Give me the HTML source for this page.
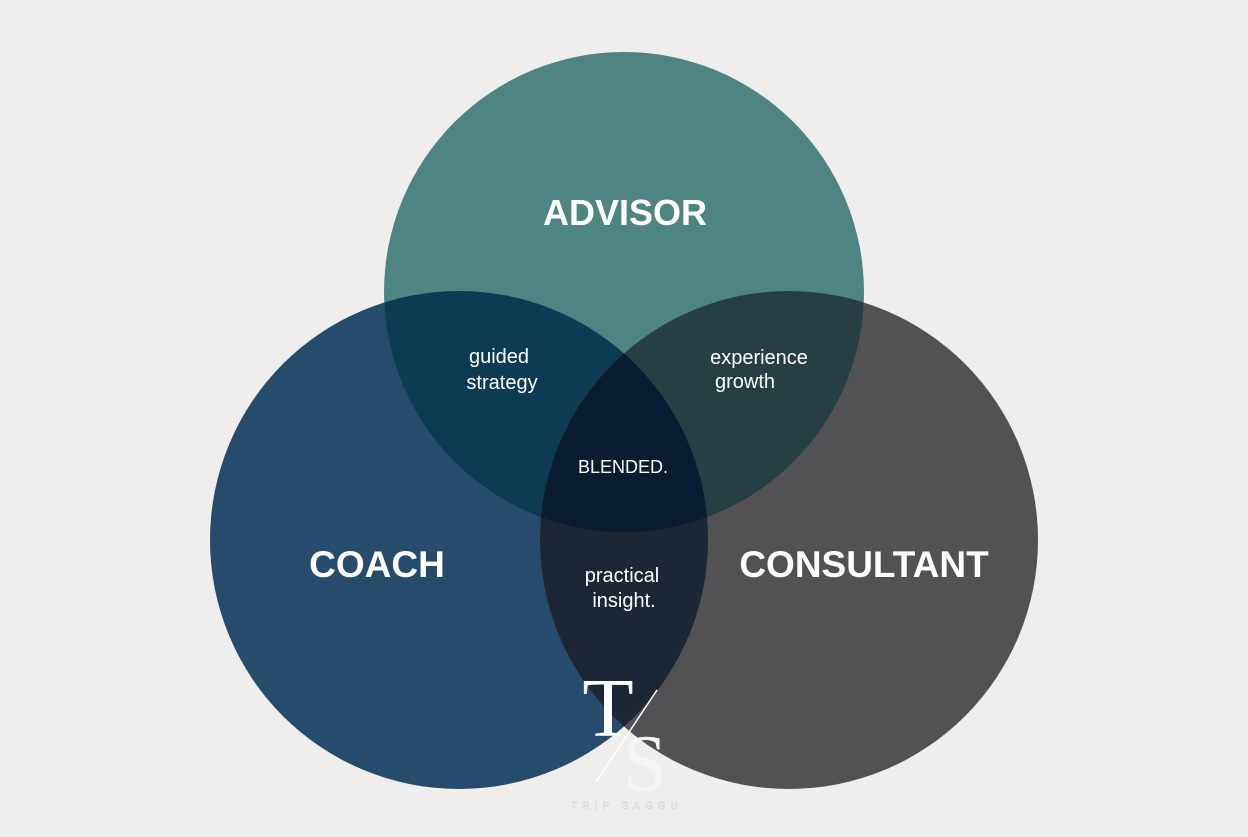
<!DOCTYPE html><html><head><style>body{margin:0;background:#efeeec}</style></head><body>
<svg width="1248" height="832" viewBox="0 0 1248 832" xmlns="http://www.w3.org/2000/svg" font-family="Liberation Sans, sans-serif">
<defs>
<clipPath id="a"><circle cx="624" cy="292" r="240"/></clipPath>
<clipPath id="c"><circle cx="459" cy="540" r="249"/></clipPath>
<clipPath id="s"><circle cx="789" cy="540" r="249"/></clipPath>
</defs>
<rect width="1248" height="832" fill="#efeeec"/>
<circle cx="459" cy="540" r="249" fill="#264b6d"/>
<circle cx="789" cy="540" r="249" fill="#525254"/>
<circle cx="624" cy="292" r="240" fill="#4e8482"/>
<g clip-path="url(#a)"><circle cx="459" cy="540" r="249" fill="#0d3b54"/><circle cx="789" cy="540" r="249" fill="#263f42"/></g>
<g clip-path="url(#c)"><circle cx="789" cy="540" r="249" fill="#1c2634"/></g>
<g clip-path="url(#a)"><g clip-path="url(#c)"><circle cx="789" cy="540" r="249" fill="#0a1c31"/></g></g>
<g fill="#fff" text-anchor="middle">
<text x="625" y="225" font-size="36" font-weight="bold">ADVISOR</text>
<text x="377" y="577" font-size="37" font-weight="bold">COACH</text>
<text x="864" y="577" font-size="37" font-weight="bold">CONSULTANT</text>
<text x="499" y="363" font-size="20">guided</text>
<text x="502" y="389" font-size="20">strategy</text>
<text x="759" y="364" font-size="20">experience</text>
<text x="745" y="388" font-size="20">growth</text>
<text x="623" y="473" font-size="18">BLENDED.</text>
<text x="622" y="582" font-size="20">practical</text>
<text x="624" y="607" font-size="20">insight.</text>
<text x="608" y="736" font-size="84" font-family="Liberation Serif, serif">T</text>
<text x="645" y="790" font-size="80" font-family="Liberation Serif, serif" fill="#f5f5f5">S</text>
<text x="627" y="809" font-size="10" letter-spacing="5" fill="#f8f8f8" stroke="#ccc" stroke-width="0.4">TRIP SAGGU</text>
</g>
<line x1="596" y1="782" x2="657" y2="690" stroke="#fff" stroke-width="1.5"/>
</svg>
</body></html>
